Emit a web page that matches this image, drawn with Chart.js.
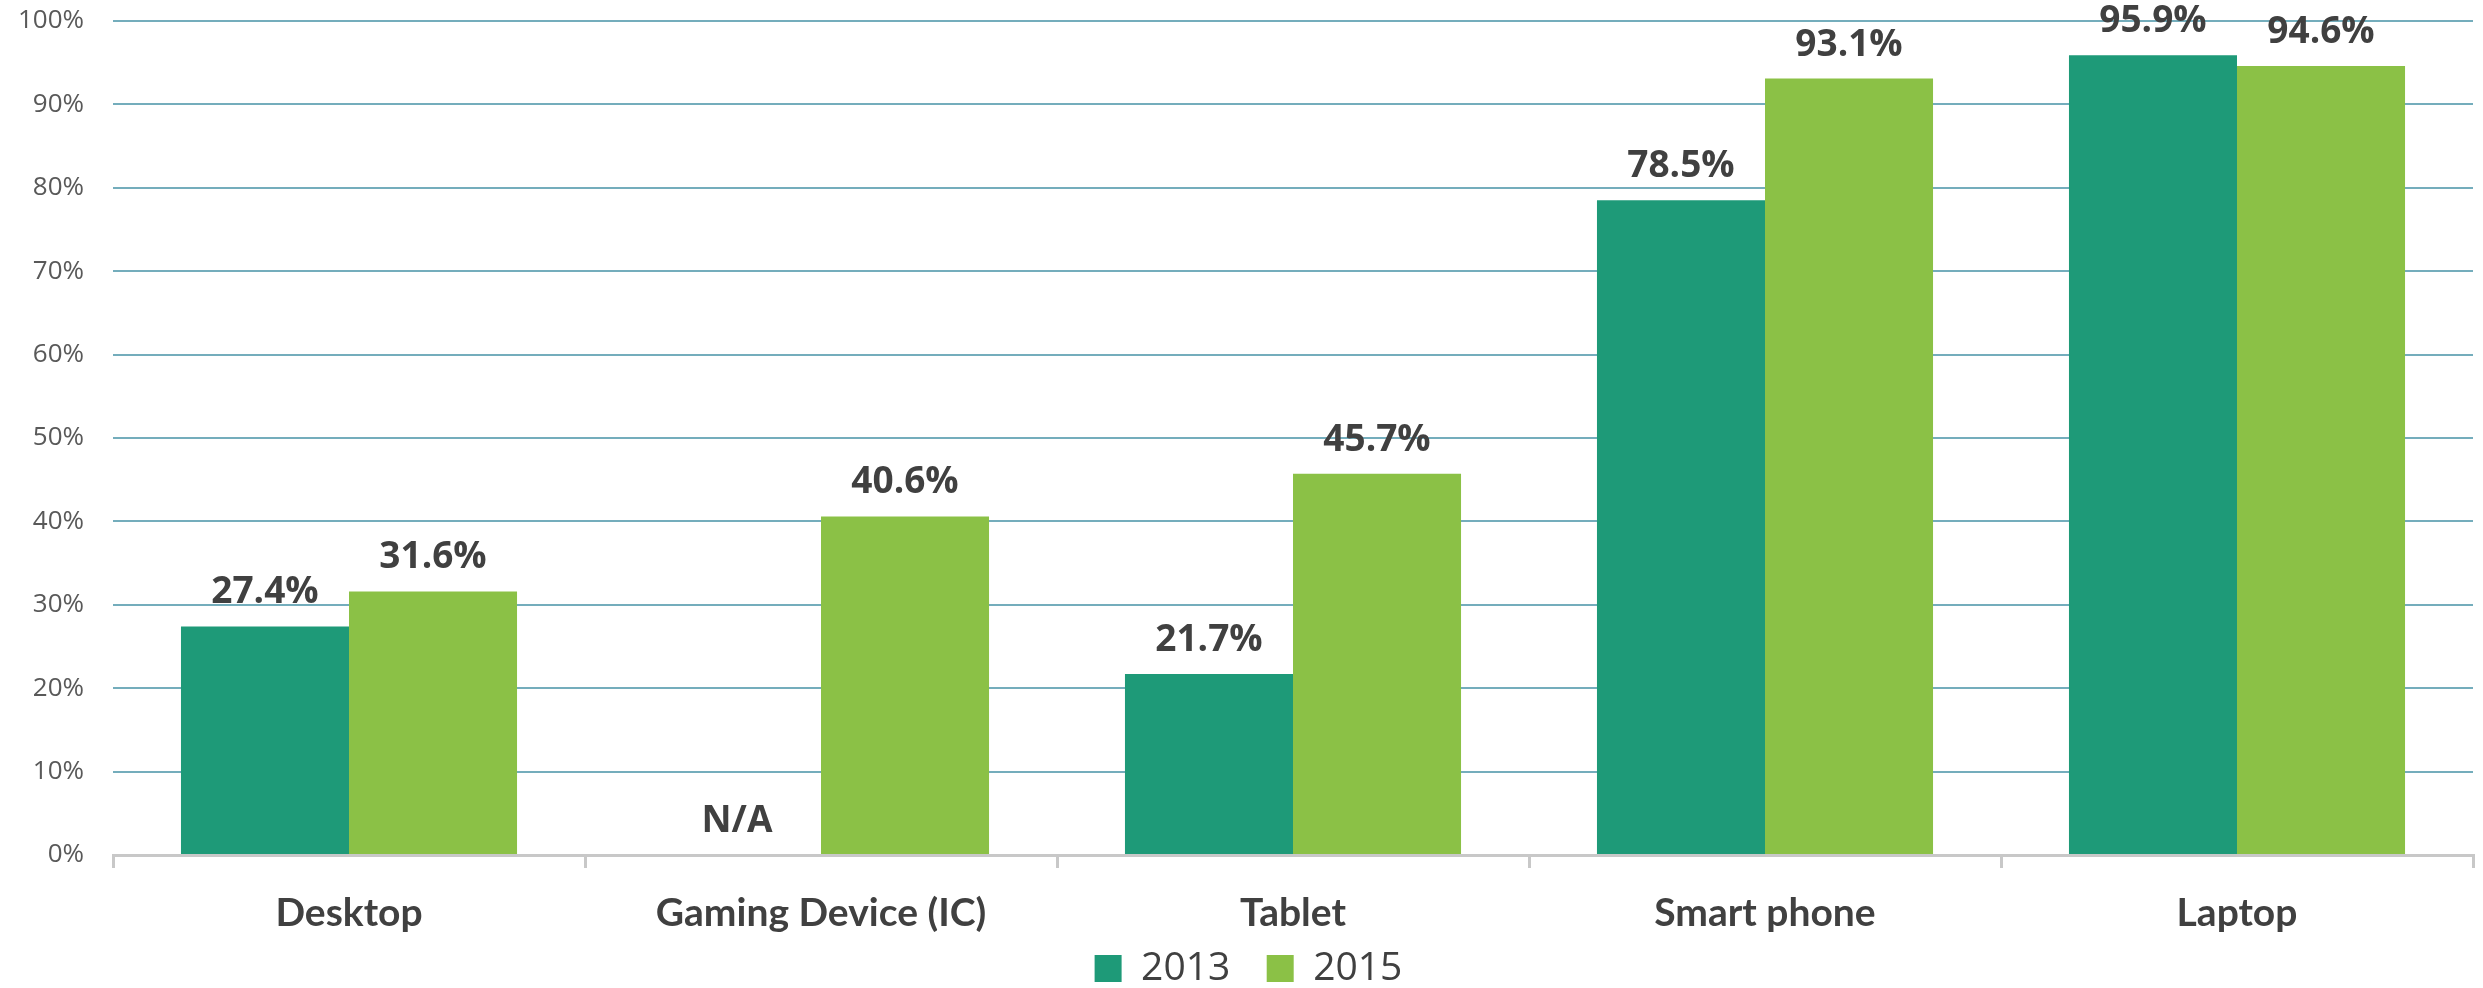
<!DOCTYPE html>
<html>
<head>
<meta charset="utf-8">
<script src="https://cdn.jsdelivr.net/npm/chart.js@4/dist/chart.umd.min.js"></script>
<style>
  html, body { margin: 0; padding: 0; background: #ffffff; }
  #wrap { width: 2483px; height: 988px; }
</style>
</head>
<body>
<div id="wrap"><canvas id="chart" width="2483" height="988"></canvas></div>
<script>
// ---- data ----
const categories = ['Desktop', 'Gaming Device (IC)', 'Tablet', 'Smart phone', 'Laptop'];
const values2013 = [27.4, null, 21.7, 78.5, 95.9];
const values2015 = [31.6, 40.6, 45.7, 93.1, 94.6];
const seriesNames = ['2013', '2015'];
const yTicks = [0, 10, 20, 30, 40, 50, 60, 70, 80, 90, 100];

const TEXT = '#404040';

// value labels above bars, "N/A" where a value is missing
const barLabels = {
  id: 'barLabels',
  afterDatasetsDraw(chart) {
    const { ctx } = chart;
    const yScale = chart.scales.y;
    ctx.save();
    ctx.font = 'bold 37px "Open Sans"';
    ctx.fillStyle = TEXT;
    ctx.textAlign = 'center';
    ctx.textBaseline = 'alphabetic';
    chart.data.datasets.forEach((ds, i) => {
      const meta = chart.getDatasetMeta(i);
      meta.data.forEach((bar, j) => {
        const v = ds.data[j];
        const y = v == null ? yScale.getPixelForValue(0) : bar.y;
        const text = v == null ? 'N/A' : v.toFixed(1) + '%';
        ctx.fillText(text, bar.x, y - 23);
      });
    });
    ctx.restore();
  },
};

new Chart(document.getElementById('chart'), {
  type: 'bar',
  data: {
    labels: categories,
    datasets: [
      { label: seriesNames[0], data: values2013, yAxisID: 'y', backgroundColor: '#1e9a78', borderWidth: 0 },
      { label: seriesNames[1], data: values2015, yAxisID: 'y', backgroundColor: '#8bc146', borderWidth: 0 },
    ],
  },
  options: {
    responsive: false,
    animation: false,
    devicePixelRatio: 1,
    // negative right padding widens the legend row so it centres like the original;
    // the empty right-hand axis takes that room back from the plot
    layout: { padding: { top: 21, right: -14, left: 0, bottom: -10 } },
    datasets: { bar: { categoryPercentage: 0.712, barPercentage: 1.0 } },
    plugins: {
      legend: {
        position: 'bottom',
        labels: {
          color: TEXT,
          font: { family: '"Open Sans"', size: 39 },
          boxWidth: 27,
          boxHeight: 27,
          padding: 6,
          // pad the first entry so the two items sit apart like the original
          generateLabels: (chart) => Chart.defaults.plugins.legend.labels.generateLabels(chart)
            .map((item, i) => (i === 0 ? { ...item, text: item.text + '   ' } : item)),
        },
      },
      tooltip: { enabled: false },
    },
    scales: {
      x: {
        grid: {
          offset: true,
          drawOnChartArea: false,
          color: '#c8c8c8',
          lineWidth: 3,
          tickLength: 13,
        },
        border: { color: '#c8c8c8', width: 3 },
        ticks: {
          color: TEXT,
          font: { family: 'Lato', weight: 'bold', size: 39 },
          padding: 22,
        },
        afterFit: (scale) => { scale.height = 88; },
      },
      y: {
        min: 0,
        max: 100,
        afterBuildTicks: (scale) => { scale.ticks = yTicks.map((v) => ({ value: v })); },
        grid: { color: '#74adbc', lineWidth: 2, drawTicks: false },
        border: { display: false },
        ticks: {
          color: '#595959',
          font: { family: '"Open Sans"', size: 26 },
          padding: 29,
          callback: (v) => v + '%',
        },
        afterFit: (scale) => {
          scale.width = 113;
          scale.paddingTop = 0;
          scale.paddingBottom = 0;
        },
      },
      pad: {
        type: 'linear',
        position: 'right',
        min: 0,
        max: 1,
        grid: { display: false, drawTicks: false },
        border: { display: false },
        ticks: { display: false },
        afterFit: (scale) => {
          scale.width = 24;
          scale.paddingTop = 0;
          scale.paddingBottom = 0;
        },
      },
    },
  },
  plugins: [barLabels],
});
</script>
</body>
</html>
